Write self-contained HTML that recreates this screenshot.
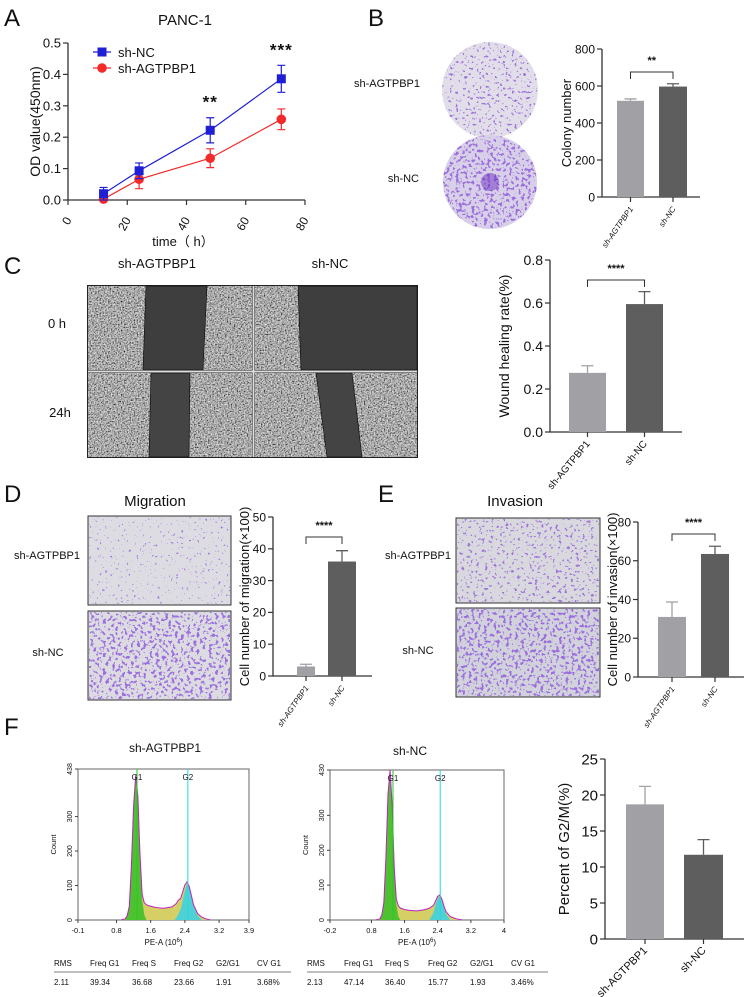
<!DOCTYPE html>
<html><head><meta charset="utf-8">
<style>
html,body{margin:0;padding:0;background:#fff;}
svg{display:block;font-family:"Liberation Sans",Arial,sans-serif;}
text{fill:#111;}
</style></head>
<body>
<svg id="fig" width="744" height="997" viewBox="0 0 744 997" xmlns="http://www.w3.org/2000/svg">
<defs>
<filter id="grayTex" x="0" y="0" width="1" height="1" filterUnits="objectBoundingBox">
<feTurbulence type="fractalNoise" baseFrequency="0.7" numOctaves="2" seed="4"/>
<feColorMatrix type="matrix" values="1.4 0 0 0 -0.3  1.4 0 0 0 -0.3  1.4 0 0 0 -0.3  0 0 0 0 1"/>
</filter>
<filter id="spotsLow" x="0" y="0" width="1" height="1" filterUnits="objectBoundingBox">
<feTurbulence type="fractalNoise" baseFrequency="0.38" numOctaves="2" seed="7"/>
<feColorMatrix type="matrix" values="0 0 0 0 0.36  0 0 0 0 0.18  0 0 0 0 0.72  22 0 0 0 -15.2"/>
</filter>
<filter id="spotsMid" x="0" y="0" width="1" height="1" filterUnits="objectBoundingBox">
<feTurbulence type="fractalNoise" baseFrequency="0.34" numOctaves="2" seed="11"/>
<feColorMatrix type="matrix" values="0 0 0 0 0.34  0 0 0 0 0.17  0 0 0 0 0.70  18 0 0 0 -11.4"/>
</filter>
<filter id="spotsHigh" x="0" y="0" width="1" height="1" filterUnits="objectBoundingBox">
<feTurbulence type="fractalNoise" baseFrequency="0.32" numOctaves="2" seed="3"/>
<feColorMatrix type="matrix" values="0 0 0 0 0.33  0 0 0 0 0.16  0 0 0 0 0.72  16 0 0 0 -9.0"/>
</filter>
<clipPath id="c1"><circle cx="490" cy="90" r="48"/></clipPath>
<clipPath id="c2"><circle cx="490" cy="182" r="47"/></clipPath>
</defs>

<text x="4" y="26" font-size="24">A</text>
<text x="368" y="26" font-size="24">B</text>
<text x="4" y="274" font-size="24">C</text>
<text x="4" y="502" font-size="24">D</text>
<text x="378" y="502" font-size="24">E</text>
<text x="4" y="735" font-size="24">F</text>

<g>
<circle cx="490" cy="90" r="48" fill="#e2dee9"/>
<rect x="440" y="40" width="100" height="100" fill="#fff" filter="url(#spotsMid)" clip-path="url(#c1)"/>
<circle cx="490" cy="182" r="47" fill="#d8cfe8"/>
<rect x="441" y="133" width="100" height="100" fill="#fff" filter="url(#spotsHigh)" clip-path="url(#c2)"/>
<circle cx="490" cy="182" r="9" fill="#6a2fc0" opacity="0.5"/>
<text x="420" y="87" font-size="11" text-anchor="end">sh-AGTPBP1</text>
<text x="419" y="182" font-size="11" text-anchor="end">sh-NC</text>
</g>

<g>
<text x="157" y="268" font-size="13" text-anchor="middle">sh-AGTPBP1</text>
<text x="330" y="268" font-size="13" text-anchor="middle">sh-NC</text>
<text x="57" y="328" font-size="13" text-anchor="middle">0 h</text>
<text x="60" y="417" font-size="13" text-anchor="middle">24h</text>
<rect x="87" y="285" width="331" height="173" fill="#222"/>
<rect x="88" y="286" width="164" height="84" fill="#fff" filter="url(#grayTex)"/>
<polygon points="146,286 207,286 203,370 143,370" fill="#3e3e3e" stroke="#111" stroke-width="0.7"/>
<rect x="255" y="286" width="162" height="84" fill="#fff" filter="url(#grayTex)"/>
<polygon points="298,286 417,286 417,370 301,370" fill="#3e3e3e" stroke="#111" stroke-width="0.7"/>
<rect x="88" y="373" width="164" height="84" fill="#fff" filter="url(#grayTex)"/>
<polygon points="151,373 190,373 189,457 149,457" fill="#444" stroke="#111" stroke-width="0.7"/>
<rect x="255" y="373" width="162" height="84" fill="#fff" filter="url(#grayTex)"/>
<polygon points="316,373 352,373 362,457 327,457" fill="#444" stroke="#111" stroke-width="0.7"/>
<line x1="88" y1="371.5" x2="417" y2="371.5" stroke="#ddd" stroke-width="2"/>
<line x1="253.5" y1="286" x2="253.5" y2="457" stroke="#ddd" stroke-width="2"/>
</g>

<g>
<text x="155" y="506" font-size="15" text-anchor="middle">Migration</text>
<text x="47" y="559" font-size="11" text-anchor="middle">sh-AGTPBP1</text>
<text x="48" y="656" font-size="11" text-anchor="middle">sh-NC</text>
<rect x="88" y="516" width="143" height="89" fill="#dcdce2" stroke="#333"/>
<rect x="89" y="517" width="141" height="87" fill="#fff" filter="url(#spotsLow)"/>
<rect x="88" y="611" width="143" height="89" fill="#dddbe2" stroke="#333"/>
<rect x="89" y="612" width="141" height="87" fill="#fff" filter="url(#spotsHigh)"/>
</g>

<g>
<text x="515" y="506" font-size="15" text-anchor="middle">Invasion</text>
<text x="418" y="559" font-size="11" text-anchor="middle">sh-AGTPBP1</text>
<text x="418" y="654" font-size="11" text-anchor="middle">sh-NC</text>
<rect x="456" y="518" width="144" height="85" fill="#d8d8de" stroke="#333"/>
<rect x="457" y="519" width="142" height="83" fill="#fff" filter="url(#spotsMid)"/>
<rect x="456" y="608" width="144" height="89" fill="#d2d2dc" stroke="#333"/>
<rect x="457" y="609" width="142" height="87" fill="#fff" filter="url(#spotsHigh)"/>
</g>

<g>
<text x="165" y="752" font-size="12" text-anchor="middle">sh-AGTPBP1</text>
<text x="410" y="755" font-size="12" text-anchor="middle">sh-NC</text>
<g font-size="8">
<text x="54" y="966">RMS</text><text x="90" y="966">Freq G1</text><text x="132" y="966">Freq S</text><text x="174" y="966">Freq G2</text><text x="216" y="966">G2/G1</text><text x="257" y="966">CV G1</text>
<line x1="54" y1="972" x2="291" y2="972" stroke="#555" stroke-width="0.8"/>
<text x="54" y="985">2.11</text><text x="90" y="985">39.34</text><text x="132" y="985">36.68</text><text x="174" y="985">23.66</text><text x="216" y="985">1.91</text><text x="257" y="985">3.68%</text>
</g>
<g font-size="8">
<text x="307" y="966">RMS</text><text x="344" y="966">Freq G1</text><text x="385" y="966">Freq S</text><text x="428" y="966">Freq G2</text><text x="470" y="966">G2/G1</text><text x="511" y="966">CV G1</text>
<line x1="307" y1="972" x2="548" y2="972" stroke="#555" stroke-width="0.8"/>
<text x="307" y="985">2.13</text><text x="344" y="985">47.14</text><text x="385" y="985">36.40</text><text x="428" y="985">15.77</text><text x="470" y="985">1.93</text><text x="511" y="985">3.46%</text>
</g>
</g>
<g id="dyn"></g>
</svg>

<script>
// ===== Panel A data =====
const timePoints = [12, 24, 48, 72];
const ncValues = [0.02, 0.093, 0.222, 0.386];
const ncErrors = [0.02, 0.025, 0.04, 0.043];
const agtValues = [0.003, 0.066, 0.133, 0.257];
const agtErrors = [0.003, 0.03, 0.03, 0.033];
const odTicks = [0, 0.1, 0.2, 0.3, 0.4, 0.5];
const timeTicks = [0, 20, 40, 60, 80];
const sigLabelsA = ["", "", "**", "***"];
// ===== Bar charts data =====
const groupLabels = ["sh-AGTPBP1", "sh-NC"];
const colonyValues = [520, 597];
const colonyErrors = [10, 15];
const colonyTicks = [0, 200, 400, 600, 800];
const woundValues = [0.275, 0.595];
const woundErrors = [0.033, 0.058];
const woundTicks = [0, 0.2, 0.4, 0.6, 0.8];
const migrationValues = [3, 36];
const migrationErrors = [0.7, 3.4];
const migrationTicks = [0, 10, 20, 30, 40, 50];
const invasionValues = [31, 63.5];
const invasionErrors = [7.7, 4];
const invasionTicks = [0, 20, 40, 60, 80];
const g2mValues = [18.7, 11.7];
const g2mErrors = [2.5, 2.1];
const g2mTicks = [0, 5, 10, 15, 20, 25];
// ===== Histogram data (PE-A x10^6, counts) =====
const h1TotalX = [0.9,1.0,1.05,1.1,1.15,1.2,1.25,1.3,1.35,1.4,1.45,1.5,1.6,1.7,1.8,1.9,2.0,2.1,2.2,2.25,2.3,2.35,2.4,2.45,2.5,2.55,2.6,2.7,2.8,2.9,3.0];
const h1TotalY = [0,3,12,40,160,330,420,360,190,75,50,44,40,37,35,34,36,38,48,58,62,82,102,110,98,72,45,18,8,3,0];
const h1G1X = [1.0,1.05,1.1,1.15,1.2,1.25,1.3,1.35,1.4,1.45,1.5];
const h1G1Y = [0,10,38,155,325,415,355,180,60,15,0];
const h1G2X = [2.15,2.2,2.3,2.4,2.45,2.5,2.55,2.6,2.7,2.8];
const h1G2Y = [0,6,30,85,105,95,70,42,12,0];
const h2TotalX = [0.9,1.0,1.05,1.1,1.15,1.2,1.25,1.3,1.35,1.4,1.45,1.5,1.6,1.7,1.8,1.9,2.0,2.1,2.2,2.3,2.35,2.4,2.45,2.5,2.55,2.6,2.7,2.8,2.9,3.0];
const h2TotalY = [0,3,14,50,180,360,430,330,150,60,40,34,30,28,27,26,28,30,34,42,55,68,72,60,40,24,10,5,2,0];
const h2G1X = [1.0,1.05,1.1,1.15,1.2,1.25,1.3,1.35,1.4,1.45,1.5];
const h2G1Y = [0,12,48,175,355,425,325,140,45,10,0];
const h2G2X = [2.2,2.3,2.35,2.4,2.45,2.5,2.55,2.6,2.7];
const h2G2Y = [0,22,45,62,68,55,36,18,0];
const h1Ticks = [-0.1, 0.8, 1.6, 2.4, 3.2, 3.9];
const h2Ticks = [-0.2, 0.8, 1.6, 2.4, 3.2, 4];
const countTicks = [0, 100, 200, 300];

const NS = "http://www.w3.org/2000/svg";
const root = document.getElementById("dyn");
function el(tag, attrs, parent) {
  const e = document.createElementNS(NS, tag);
  for (const k in attrs) e.setAttribute(k, attrs[k]);
  (parent || root).appendChild(e);
  return e;
}
function txt(s, attrs, parent) { const t = el("text", attrs, parent); t.textContent = s; return t; }

// ===== Panel A =====
(function () {
  const x0 = 68, x1 = 305, y0 = 200, y1 = 43;
  const xs = v => x0 + (v - 0) / 80 * (x1 - x0);
  const ys = v => y0 - v / 0.5 * (y0 - y1);
  const g = el("g", {});
  
  
  const t = txt("PANC-1", { x: 185, y: 25, "font-size": 15, "text-anchor": "middle" }, g);
  
  
  const ax = el("path", { d: `M${x0},${y1} V${y0} H${x1}`, stroke: "#333", "stroke-width": 1.3, fill: "none" }, g);
  
  
  odTicks.forEach(v => {
    el("line", { x1: x0 - 5, x2: x0, y1: ys(v), y2: ys(v), stroke: "#333", "stroke-width": 1.2 }, g);
    const l = txt(v.toFixed(1), { x: x0 - 7, y: ys(v) + 4.5, "font-size": 13, "text-anchor": "end" }, g);
    
    
  });
  timeTicks.forEach(v => {
    el("line", { x1: xs(v), x2: xs(v), y1: y0, y2: y0 + 5, stroke: "#333", "stroke-width": 1.2 }, g);
    const l = txt(String(v), { x: xs(v) + 4, y: y0 + 20, "font-size": 12, "text-anchor": "end", transform: `rotate(-60 ${xs(v) + 4} ${y0 + 20})` }, g);
    
    
  });
  const yl = txt("OD value(450nm)", { x: 0, y: 0, "font-size": 14, "text-anchor": "middle", transform: `translate(40 ${(y0 + y1) / 2}) rotate(-90)` }, g);
  
  
  const xl = txt("time（ h）", { x: 183, y: 246, "font-size": 13, "text-anchor": "middle", "font-family": "Liberation Sans, Noto Sans CJK SC, sans-serif" }, g);
  
  
  function series(vals, errs, color, shape, name) {
    const sg = el("g", {}, g);
    
    
    el("polyline", { points: vals.map((v, i) => xs(timePoints[i]) + "," + ys(v)).join(" "), fill: "none", stroke: color, "stroke-width": 1.2 }, sg);
    vals.forEach((v, i) => {
      const cx = xs(timePoints[i]);
      el("path", { d: `M${cx - 4},${ys(v + errs[i])} H${cx + 4} M${cx},${ys(v + errs[i])} V${ys(v - errs[i])} M${cx - 4},${ys(v - errs[i])} H${cx + 4}`, stroke: color, "stroke-width": 1.2, fill: "none" }, sg);
      let m;
      if (shape === "sq") m = el("rect", { x: cx - 4.5, y: ys(v) - 4.5, width: 9, height: 9, fill: color }, sg);
      else m = el("circle", { cx: cx, cy: ys(v), r: 4.8, fill: color }, sg);
      
      
    });
  }
  series(agtValues, agtErrors, "#f22a2a", "ci", "series-sh-agtpbp1");
  series(ncValues, ncErrors, "#1f1fd6", "sq", "series-sh-nc");
  sigLabelsA.forEach((s, i) => {
    if (!s) return;
    const top = Math.max(ncValues[i] + ncErrors[i], agtValues[i] + agtErrors[i]);
    const l = txt(s, { x: xs(timePoints[i]), y: ys(top) - 10, "font-size": 17, "font-weight": "bold", "text-anchor": "middle", "letter-spacing": "1" }, g);
    
    
  });
  const lg = el("g", {}, g);
  
  
  el("line", { x1: 93, x2: 111, y1: 52, y2: 52, stroke: "#1f1fd6", "stroke-width": 1.2 }, lg);
  el("rect", { x: 97.5, y: 47.5, width: 9, height: 9, fill: "#1f1fd6" }, lg);
  const l1 = txt("sh-NC", { x: 118, y: 57, "font-size": 13 }, lg);
  
  
  el("line", { x1: 93, x2: 111, y1: 68, y2: 68, stroke: "#f22a2a", "stroke-width": 1.2 }, lg);
  el("circle", { cx: 102, cy: 68, r: 4.8, fill: "#f22a2a" }, lg);
  const l2 = txt("sh-AGTPBP1", { x: 118, y: 73, "font-size": 13 }, lg);
  
  
})();

// ===== Generic bar chart =====
function barChart(c) {
  const g = el("g", {});
  
  
  const vmax = c.ticks[c.ticks.length - 1];
  const ys = v => c.y0 - v / vmax * (c.y0 - c.y1);
  c.ticks.forEach(v => {
    el("line", { x1: c.ax - 5, x2: c.ax, y1: ys(v), y2: ys(v), stroke: "#333", "stroke-width": 1.2 }, g);
    const l = txt(c.fmt(v), { x: c.ax - 7, y: ys(v) + c.fs * 0.36, "font-size": c.fs, "text-anchor": "end" }, g);
    
    
  });
  const ax = el("path", { d: `M${c.ax},${c.y1} V${c.y0} H${c.xend}`, stroke: "#333", "stroke-width": 1.3, fill: "none" }, g);
  
  
  const cols = ["#a1a1a5", "#5e5e5e"];
  c.values.forEach((v, i) => {
    const [bx0, bx1] = c.bars[i];
    const cx = (bx0 + bx1) / 2;
    const e = c.errors[i];
    el("path", { d: `M${cx - 6},${ys(v + e)} H${cx + 6} M${cx},${ys(v + e)} V${ys(v)}`, stroke: cols[i], "stroke-width": 1.3, fill: "none" }, g);
    const b = el("rect", { x: bx0, y: ys(v), width: bx1 - bx0, height: c.y0 - ys(v), fill: cols[i] }, g);
    
    
    el("line", { x1: cx, x2: cx, y1: c.y0, y2: c.y0 + 5, stroke: "#333", "stroke-width": 1.2 }, g);
    const l = txt(groupLabels[i], { x: cx + 3, y: c.y0 + 12, "font-size": c.lfs, "text-anchor": "end", "font-style": c.italic ? "italic" : "normal", transform: `rotate(${c.rot} ${cx + 3} ${c.y0 + 12})` }, g);
    
    
  });
  if (c.sig) {
    const a = (c.bars[0][0] + c.bars[0][1]) / 2, b2 = (c.bars[1][0] + c.bars[1][1]) / 2;
    const by = c.brY;
    const br = el("path", { d: `M${a},${by + 7} V${by} H${b2} V${by + 7}`, stroke: "#333", "stroke-width": 1, fill: "none" }, g);
    
    
    const s = txt(c.sig, { x: (a + b2) / 2, y: by - 8, "font-size": 11, "font-weight": "bold", "text-anchor": "middle" }, g);
    
    
  }
  const yl = txt(c.ylabel, { x: 0, y: 0, "font-size": c.yfs, "text-anchor": "middle", transform: `translate(${c.ylx} ${(c.y0 + c.y1) / 2}) rotate(-90)` }, g);
  
  
}
barChart({ name: "colony-bar-chart", ax: 602, y0: 197, y1: 49, xend: 700, ticks: colonyTicks, values: colonyValues, errors: colonyErrors, bars: [[617, 644], [659, 687]], fmt: v => String(v), fs: 12, lfs: 8, italic: true, rot: -55, sig: "**", brY: 72, ylabel: "Colony number", ylx: 571, yfs: 13 });
barChart({ name: "wound-bar-chart", ax: 550, y0: 432, y1: 260, xend: 682, ticks: woundTicks, values: woundValues, errors: woundErrors, bars: [[569, 606], [626, 663]], fmt: v => v.toFixed(1), fs: 14, lfs: 10, italic: false, rot: -50, sig: "****", brY: 280, ylabel: "Wound healing rate(%)", ylx: 509, yfs: 14 });
barChart({ name: "migration-bar-chart", ax: 273, y0: 676, y1: 517, xend: 372, ticks: migrationTicks, values: migrationValues, errors: migrationErrors, bars: [[297, 315], [328, 356]], fmt: v => String(v), fs: 12, lfs: 8, italic: true, rot: -55, sig: "****", brY: 537, ylabel: "Cell number of migration(×100)", ylx: 249, yfs: 13 });
barChart({ name: "invasion-bar-chart", ax: 638, y0: 677, y1: 522, xend: 744, ticks: invasionTicks, values: invasionValues, errors: invasionErrors, bars: [[658, 686], [701, 729]], fmt: v => String(v), fs: 12, lfs: 8, italic: true, rot: -55, sig: "****", brY: 534, ylabel: "Cell number of invasion(×100)", ylx: 617, yfs: 13 });
barChart({ name: "g2m-bar-chart", ax: 605, y0: 939, y1: 759, xend: 744, ticks: g2mTicks, values: g2mValues, errors: g2mErrors, bars: [[626, 664], [684, 723]], fmt: v => String(v), fs: 15, lfs: 11, italic: false, rot: -45, sig: null, ylabel: "Percent of G2/M(%)", ylx: 569, yfs: 15 });

// ===== Histograms =====
function histogram(c) {
  const g = el("g", {});
  
  
  const xs = v => c.bx0 + (v - c.xmin) / (c.xmax - c.xmin) * (c.bx1 - c.bx0);
  const ys = v => c.by1 - v / c.ymax * (c.by1 - c.by0);
  const box = el("rect", { x: c.bx0, y: c.by0, width: c.bx1 - c.bx0, height: c.by1 - c.by0, fill: "none", stroke: "#666", "stroke-width": 1 }, g);
  
  
  const area = (X, Y) => `M${xs(X[0])},${ys(0)} ` + X.map((v, i) => `L${xs(v)},${ys(Y[i])}`).join(" ") + ` L${xs(X[X.length - 1])},${ys(0)} Z`;
  const s = el("path", { d: area(c.tx, c.ty), fill: "#d6cf66", stroke: "none" }, g);
  
  
  const g1 = el("path", { d: area(c.g1x, c.g1y), fill: "#3fbf2a", opacity: 0.9 }, g);
  
  
  const g2 = el("path", { d: area(c.g2x, c.g2y), fill: "#3fd0e0", opacity: 0.9 }, g);
  
  
  const env = el("polyline", { points: c.tx.map((v, i) => xs(v) + "," + ys(c.ty[i])).join(" "), fill: "none", stroke: "#c020c0", "stroke-width": 1 }, g);
  
  
  [[c.g1line, "G1", "#22cc22"], [c.g2line, "G2", "#22d8e0"]].forEach(([v, lab, col]) => {
    el("line", { x1: xs(v), x2: xs(v), y1: c.by0, y2: c.by1, stroke: col, "stroke-width": 1 }, g);
    const l = txt(lab, { x: xs(v), y: c.by0 + 11, "font-size": 8, "text-anchor": "middle" }, g);
    
    
  });
  c.xticks.forEach(v => {
    el("line", { x1: xs(v), x2: xs(v), y1: c.by1, y2: c.by1 + 3, stroke: "#444" }, g);
    const l = txt(String(v), { x: xs(v), y: c.by1 + 13, "font-size": 7.5, "text-anchor": "middle" }, g);
    
    
  });
  c.yticks.concat([c.ymax]).forEach(v => {
    el("line", { x1: c.bx0 - 3, x2: c.bx0, y1: ys(v), y2: ys(v), stroke: "#444" }, g);
    const l = txt(String(v), { x: 0, y: 0, "font-size": 7, "text-anchor": "middle", transform: `translate(${c.bx0 - 6} ${ys(v)}) rotate(-90)` }, g);
    
    
  });
  const xl = el("text", { x: (c.bx0 + c.bx1) / 2, y: c.by1 + 25, "font-size": 8, "text-anchor": "middle" }, g);
  xl.innerHTML = 'PE-A  (10<tspan dy="-3" font-size="6">6</tspan><tspan dy="3">)</tspan>';
  
  
  const yl = txt("Count", { x: 0, y: 0, "font-size": 7.5, "text-anchor": "middle", transform: `translate(${c.bx0 - 22} ${(c.by0 + c.by1) / 2}) rotate(-90)` }, g);
  
  
}
histogram({ name: "histogram-sh-agtpbp1", bx0: 78, bx1: 249, by0: 769, by1: 920, xmin: -0.1, xmax: 3.9, ymax: 438, tx: h1TotalX, ty: h1TotalY, g1x: h1G1X, g1y: h1G1Y, g2x: h1G2X, g2y: h1G2Y, g1line: 1.28, g2line: 2.47, xticks: h1Ticks, yticks: countTicks });
histogram({ name: "histogram-sh-nc", bx0: 330, bx1: 504, by0: 770, by1: 920, xmin: -0.2, xmax: 4, ymax: 430, tx: h2TotalX, ty: h2TotalY, g1x: h2G1X, g1y: h2G1Y, g2x: h2G2X, g2y: h2G2Y, g1line: 1.32, g2line: 2.46, xticks: h2Ticks, yticks: countTicks });
</script>
</body></html>
